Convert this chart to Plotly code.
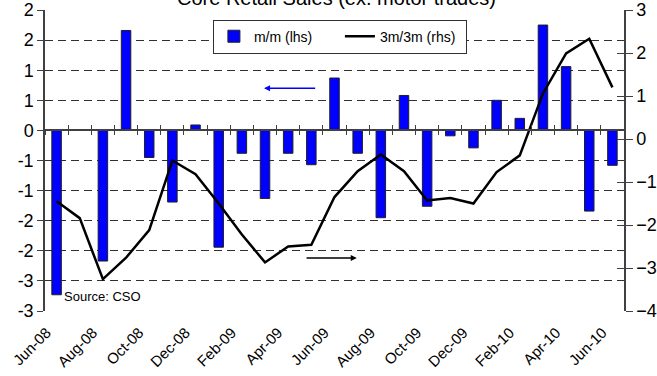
import plotly.graph_objects as go

# Monthly categories, Jun-08 .. Jun-10
months = ["Jun-08", "Jul-08", "Aug-08", "Sep-08", "Oct-08", "Nov-08", "Dec-08",
          "Jan-09", "Feb-09", "Mar-09", "Apr-09", "May-09", "Jun-09", "Jul-09",
          "Aug-09", "Sep-09", "Oct-09", "Nov-09", "Dec-09", "Jan-10", "Feb-10",
          "Mar-10", "Apr-10", "May-10", "Jun-10"]

# m/m % change (left axis)
mom = [-2.73, 0.0, -2.17, 1.66, -0.45, -1.19, 0.09,
       -1.94, -0.38, -1.13, -0.38, -0.57, 0.87, -0.38,
       -1.45, 0.58, -1.26, -0.09, -0.29, 0.50, 0.20,
       1.75, 1.06, -1.34, -0.58]

# 3m/3m % change (right axis)
three_m = [-1.45, -1.84, -3.26, -2.76, -2.12, -0.50, -0.82,
           -1.50, -2.22, -2.87, -2.50, -2.46, -1.35, -0.75,
           -0.36, -0.75, -1.43, -1.37, -1.50, -0.77, -0.38,
           1.06, 1.99, 2.33, 1.20]

# Left axis ticks (0.5 steps shown with no decimals)
left_ticks = [-3.0, -2.5, -2.0, -1.5, -1.0, -0.5, 0.0, 0.5, 1.0, 1.5, 2.0]
left_text = ["-3", "-3", "-2", "-2", "-1", "-1", "0", "1", "1", "2", "2"]
right_ticks = [-4, -3, -2, -1, 0, 1, 2, 3]
x_labels = months[::2]

FONT = "Liberation Sans, Arial, sans-serif"
AXIS_COL = "#404040"

fig = go.Figure()
fig.add_trace(go.Bar(
    x=months, y=mom, name="m/m (lhs)",
    marker=dict(color="#0000FF", line=dict(color="#202020", width=1)),
    yaxis="y", xaxis="x",
))
fig.add_trace(go.Scatter(
    x=months, y=three_m, name="3m/3m (rhs)", mode="lines",
    line=dict(color="black", width=2.5),
    yaxis="y2", xaxis="x",
))

fig.update_layout(
    width=657, height=376,
    margin=dict(l=45, r=33, t=10, b=65, autoexpand=False),
    paper_bgcolor="white", plot_bgcolor="white",
    font=dict(family=FONT, color="black"),
    bargap=0.59,
    showlegend=True,
    legend=dict(
        orientation="h", x=0.29, y=0.968, xanchor="left", yanchor="top",
        bordercolor="#303030", borderwidth=1, bgcolor="white",
        font=dict(size=14, family=FONT), traceorder="normal",
        entrywidth=81, entrywidthmode="pixels",
    ),
    xaxis=dict(
        type="category", categoryorder="array", categoryarray=months,
        range=[-0.5, 24.5], tickmode="array", tickvals=x_labels, ticktext=x_labels,
        tickangle=-45, tickfont=dict(size=15), ticks="", showline=False,
        ticklabelstandoff=9, ticklabelshift=-10,
        showgrid=False, zeroline=False, automargin=False,
    ),
    # zero line with category boundary ticks
    xaxis2=dict(
        overlaying="x", anchor="free", position=0.6, range=[-0.5, 24.5],
        tickmode="linear", tick0=0.5, dtick=1, ticks="outside", ticklen=4,
        tickcolor=AXIS_COL, showticklabels=False, showline=True,
        linecolor=AXIS_COL, linewidth=1.5, showgrid=False, zeroline=False,
        automargin=False,
    ),
    xaxis3=dict(
        overlaying="x", anchor="free", position=0.6, range=[-0.5, 24.5],
        tickmode="linear", tick0=0.5, dtick=1, ticks="inside", ticklen=5,
        tickcolor=AXIS_COL, showticklabels=False, showline=False,
        showgrid=False, zeroline=False, automargin=False,
    ),
    yaxis=dict(
        range=[-3, 2], tickmode="array", tickvals=left_ticks, ticktext=left_text,
        tickfont=dict(size=18), ticks="outside", ticklen=6, tickcolor=AXIS_COL,
        showline=True, linecolor=AXIS_COL, linewidth=1.5,
        showgrid=True, gridcolor="#303030", gridwidth=1, griddash="8px,5px",
        zeroline=False, automargin=False,
    ),
    yaxis2=dict(
        range=[-4, 3], overlaying="y", side="right", tickmode="array",
        tickvals=right_ticks, tickfont=dict(size=18), ticks="outside", ticklen=7,
        tickcolor=AXIS_COL, showline=True, linecolor=AXIS_COL, linewidth=1.5,
        showgrid=False, zeroline=False, automargin=False,
    ),
    yaxis3=dict(
        range=[-4, 3], overlaying="y", side="right", anchor="x", tickmode="array",
        tickvals=right_ticks, ticks="inside", ticklen=7, tickcolor=AXIS_COL,
        showticklabels=False, showline=False, showgrid=False, zeroline=False,
        automargin=False,
    ),
)

# invisible traces to bind the overlay axes
fig.add_trace(go.Scatter(x=[None], y=[None], xaxis="x2", yaxis="y", showlegend=False, hoverinfo="skip"))
fig.add_trace(go.Scatter(x=[None], y=[None], xaxis="x3", yaxis="y3", showlegend=False, hoverinfo="skip"))

fig.add_annotation(
    text="Core Retail Sales (ex. motor trades)", xref="paper", yref="paper",
    x=0.503, y=1.0, xanchor="center", yanchor="bottom", yshift=-1,
    showarrow=False, font=dict(size=20, family=FONT),
)
fig.add_annotation(
    text="Source: CSO", xref="paper", yref="paper", x=0.03, y=0.049,
    xanchor="left", yanchor="middle", showarrow=False, font=dict(size=13, family=FONT),
)
# direction arrows: bars read on the left axis, line on the right
fig.add_annotation(
    x=8.96, y=0.70, ax=11.23, ay=0.70, xref="x", yref="y", axref="x", ayref="y",
    showarrow=True, arrowhead=2, arrowsize=0.8, arrowwidth=1.5, arrowcolor="#0000FF", text="",
)
fig.add_annotation(
    x=12.96, y=-2.12, ax=10.73, ay=-2.12, xref="x", yref="y", axref="x", ayref="y",
    showarrow=True, arrowhead=2, arrowsize=0.8, arrowwidth=1.5, arrowcolor="black", text="",
)

fig.write_html("out.html")
